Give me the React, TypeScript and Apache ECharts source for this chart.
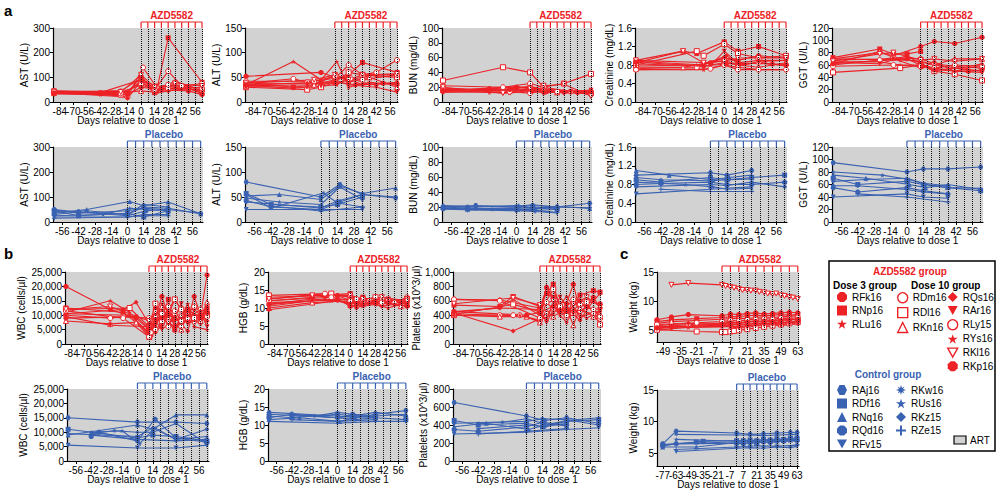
import React, { useEffect, useRef } from 'react';
import * as echarts from 'echarts';

type Pt = [number, number];
type SubjData = Record<string, Pt[]>;

const RED = '#ec2227';
const BLUE = '#3a62b2';
const GRAY = '#d2d2d2';
const FONT = 'Liberation Sans, Arial, sans-serif';

// ---------- tick labels / days ----------
const drugXTicks = [-84, -70, -56, -42, -28, -14, 0, 14, 28, 42, 56];
const placeboXTicks = [-56, -42, -28, -14, 0, 14, 28, 42, 56];
const weightDrugXTicks = [-49, -35, -21, -7, 7, 21, 35, 49, 63];
const weightPlaceboXTicks = [-77, -63, -49, -35, -21, -7, 7, 21, 35, 49, 63];
const treatmentDays = [0, 7, 14, 21, 28, 35, 42, 49, 56, 63];

const drugSubjects = ['RFk16', 'RNp16', 'RLu16', 'RDm16', 'RDl16', 'RKn16', 'RQs16', 'RAr16', 'RLy15', 'RYs16', 'RKl16', 'RKp16'];
const controlSubjects = ['RAj16', 'RDf16', 'RNq16', 'RQd16', 'RFv15', 'RKw16', 'RUs16', 'RKz15', 'RZe15'];

// ---------- data: [day, value] per animal ----------
const astDrug: SubjData = {
  RFk16: [[-90, 40], [-21, 45], [0, 95], [14, 55], [28, 65], [42, 60], [63, 70]],
  RNp16: [[-90, 45], [-14, 40], [0, 100], [16, 45], [28, 260], [63, 80]],
  RLu16: [[-90, 35], [-42, 30], [-21, 25], [2, 90], [14, 40], [35, 85], [49, 65], [63, 45]],
  RDm16: [[-90, 38], [-14, 20], [2, 140], [16, 60], [28, 125], [42, 65], [63, 75]],
  RDl16: [[-90, 42], [-21, 30], [0, 80], [14, 50], [28, 55], [63, 50]],
  RKn16: [[-90, 36], [-14, 40], [0, 45], [14, 40], [35, 70], [63, 40]],
  RQs16: [[-90, 33], [-28, 35], [-14, 15], [0, 85], [14, 35], [28, 45], [49, 55], [63, 35]],
  RAr16: [[-90, 40], [-42, 38], [0, 90], [16, 65], [35, 60], [63, 45]],
  RLy15: [[-90, 44], [-21, 35], [0, 70], [14, 50], [28, 70], [63, 55]],
  RYs16: [[-90, 37], [-14, 45], [2, 85], [14, 55], [42, 55], [63, 60]],
  RKl16: [[-90, 39], [-21, 40], [0, 110], [14, 60], [35, 75], [63, 65]],
  RKp16: [[-90, 35], [-14, 30], [0, 60], [21, 50], [49, 45], [63, 30]],
};
const altDrug: SubjData = {
  RFk16: [[-90, 52], [-14, 60], [0, 50], [14, 45], [28, 50], [42, 55], [63, 55]],
  RNp16: [[-90, 40], [-42, 30], [-21, 35], [0, 45], [14, 55], [28, 80], [63, 60]],
  RLu16: [[-90, 35], [-42, 82], [-14, 45], [2, 82], [14, 30], [35, 40], [63, 35]],
  RDm16: [[-90, 38], [-42, 47], [-28, 40], [0, 48], [14, 75], [28, 55], [42, 60], [63, 85]],
  RDl16: [[-90, 30], [-28, 25], [-14, 30], [0, 40], [14, 60], [28, 55], [63, 50]],
  RKn16: [[-90, 33], [-21, 35], [2, 55], [14, 40], [35, 50], [63, 30]],
  RQs16: [[-90, 36], [-28, 38], [0, 38], [16, 45], [28, 35], [63, 40]],
  RAr16: [[-90, 34], [-42, 28], [-14, 32], [0, 45], [14, 35], [42, 30], [63, 20]],
  RLy15: [[-90, 42], [-21, 42], [0, 52], [16, 48], [28, 45], [63, 55]],
  RYs16: [[-90, 31], [-28, 30], [2, 35], [14, 50], [35, 35], [63, 38]],
  RKl16: [[-90, 38], [-21, 45], [0, 55], [14, 45], [28, 55], [63, 57]],
  RKp16: [[-90, 35], [-14, 40], [0, 40], [21, 35], [49, 38], [63, 36]],
};
const bunDrug: SubjData = {
  RFk16: [[-90, 15], [-42, 18], [-14, 20], [0, 18], [14, 15], [35, 14], [63, 14]],
  RNp16: [[-90, 17], [-28, 15], [0, 22], [16, 14], [28, 13], [63, 12]],
  RLu16: [[-90, 14], [-42, 13], [-21, 12], [2, 16], [14, 12], [35, 15], [63, 15]],
  RDm16: [[-90, 22], [-28, 20], [0, 25], [14, 20], [42, 14], [63, 10]],
  RDl16: [[-90, 29], [-28, 47], [0, 40], [14, 20], [35, 25], [63, 38]],
  RKn16: [[-90, 16], [-21, 18], [0, 20], [14, 16], [28, 13], [63, 13]],
  RQs16: [[-90, 18], [-14, 16], [2, 14], [14, 18], [35, 12], [63, 15]],
  RAr16: [[-90, 13], [-42, 15], [0, 17], [16, 13], [42, 14], [63, 16]],
  RLy15: [[-90, 19], [-21, 14], [0, 12], [14, 15], [28, 14], [63, 11]],
  RYs16: [[-90, 15], [-14, 21], [0, 19], [21, 17], [42, 14], [63, 13]],
  RKl16: [[-90, 20], [-28, 12], [0, 18], [14, 22], [35, 24], [63, 8]],
  RKp16: [[-90, 16], [-21, 17], [2, 15], [14, 14], [49, 13], [63, 14]],
};
const creatDrug: SubjData = {
  RFk16: [[-90, 0.9], [-14, 0.85], [0, 0.95], [14, 0.9], [35, 1.0], [63, 0.95]],
  RNp16: [[-90, 0.85], [-42, 1.1], [-28, 1.05], [0, 1.3], [14, 1.1], [35, 1.2], [63, 1.0]],
  RLu16: [[-90, 0.7], [-21, 0.7], [0, 0.8], [14, 0.75], [35, 0.7], [63, 0.7]],
  RDm16: [[-90, 0.75], [-28, 0.75], [0, 0.85], [14, 0.8], [35, 0.85], [63, 0.8]],
  RDl16: [[-90, 0.8], [-28, 1.1], [-21, 1.0], [0, 1.25], [14, 1.05], [35, 0.95], [63, 1.0]],
  RKn16: [[-90, 0.72], [-42, 0.75], [0, 0.9], [14, 0.8], [35, 0.75], [63, 0.85]],
  RQs16: [[-90, 0.88], [-21, 0.8], [2, 1.0], [14, 0.85], [35, 0.9], [63, 0.9]],
  RAr16: [[-90, 0.82], [-14, 0.78], [0, 1.1], [16, 0.8], [35, 0.85], [63, 0.78]],
  RLy15: [[-90, 0.7], [-14, 0.72], [0, 0.8], [14, 0.7], [35, 0.7], [63, 0.7]],
  RYs16: [[-90, 0.78], [-28, 0.8], [0, 0.95], [21, 0.82], [42, 0.88], [63, 0.9]],
  RKl16: [[-90, 0.9], [-42, 1.1], [-21, 0.85], [0, 0.88], [14, 0.95], [35, 0.95], [63, 0.95]],
  RKp16: [[-90, 0.86], [-21, 0.78], [2, 0.82], [14, 0.85], [49, 0.82], [63, 0.8]],
};
const ggtDrug: SubjData = {
  RFk16: [[-90, 70], [-42, 80], [-28, 75], [0, 90], [14, 98], [35, 95], [63, 105]],
  RNp16: [[-90, 72], [-42, 86], [-28, 78], [-14, 78], [0, 82]],
  RLu16: [[-90, 65], [-42, 65], [-21, 60], [0, 60], [14, 55], [35, 50], [63, 48]],
  RDm16: [[-90, 60], [-42, 68], [-28, 72], [0, 70], [14, 62], [35, 58], [63, 55]],
  RDl16: [[-90, 48], [-21, 55], [0, 60], [14, 50], [35, 45], [63, 35]],
  RKn16: [[-90, 62], [-42, 82], [-28, 72], [0, 65], [14, 60], [35, 70], [63, 70]],
  RQs16: [[-90, 68], [-28, 70], [0, 55], [14, 65], [35, 50], [63, 60]],
  RAr16: [[-90, 64], [-42, 62], [-14, 75], [0, 62], [16, 52], [35, 55], [63, 50]],
  RLy15: [[-90, 58], [-28, 60], [0, 58], [14, 55], [35, 60], [63, 58]],
  RYs16: [[-90, 70], [-21, 68], [0, 66], [21, 58], [42, 55], [63, 62]],
  RKl16: [[-90, 66], [-42, 78], [-28, 80], [0, 68], [14, 70], [35, 66], [63, 70]],
  RKp16: [[-90, 62], [-14, 70], [2, 58], [14, 52], [49, 50], [63, 52]],
};

const astPlacebo: SubjData = {
  RAj16: [[-63, 50], [-42, 40], [0, 30], [14, 60], [35, 55], [63, 33]],
  RDf16: [[-63, 45], [-42, 25], [0, 35], [14, 20], [35, 45]],
  RNq16: [[-63, 35], [-35, 50], [2, 82], [14, 65], [35, 80], [63, 33]],
  RQd16: [[-63, 30], [-42, 40], [0, 25], [16, 45], [35, 50]],
  RFv15: [[-63, 20], [0, 20], [14, 30], [35, 30]],
  RKw16: [[-63, 40], [-35, 45], [0, 30], [14, 70], [35, 60]],
  RUs16: [[-63, 25], [-21, 30], [2, 55], [16, 50], [35, 45]],
  RKz15: [[-63, 48], [-42, 35], [0, 45], [14, 55], [35, 50], [63, 35]],
  RZe15: [[-63, 15], [0, 20], [14, 25], [35, 25]],
};
const altPlacebo: SubjData = {
  RAj16: [[-63, 80], [0, 50], [16, 75], [35, 55], [63, 48]],
  RDf16: [[-63, 57], [-42, 35], [0, 30], [14, 35], [35, 50]],
  RNq16: [[-63, 52], [-35, 55], [0, 45], [16, 72], [35, 57], [63, 68]],
  RQd16: [[-63, 43], [-42, 30], [0, 25], [16, 40], [35, 55]],
  RFv15: [[-63, 25], [0, 25], [35, 25]],
  RKw16: [[-63, 55], [-42, 28], [2, 58], [14, 38], [35, 30]],
  RUs16: [[-63, 48], [-35, 40], [0, 35], [16, 70], [35, 45]],
  RKz15: [[-63, 40], [0, 28], [14, 42], [35, 55], [63, 50]],
  RZe15: [[-42, 32], [0, 22], [35, 30]],
};
const bunPlacebo: SubjData = {
  RAj16: [[-63, 20], [-35, 22], [0, 20], [14, 22], [35, 20], [63, 25]],
  RDf16: [[-63, 19], [-42, 17], [0, 18], [14, 20], [35, 18]],
  RNq16: [[-63, 21], [-35, 20], [2, 22], [16, 18], [35, 21], [63, 18]],
  RQd16: [[-63, 18], [-42, 19], [0, 16], [14, 17], [35, 19]],
  RFv15: [[-63, 17], [0, 15], [16, 14], [35, 12]],
  RKw16: [[-63, 22], [-42, 21], [0, 21], [14, 23], [35, 20]],
  RUs16: [[-63, 18], [-21, 17], [2, 16], [16, 15], [35, 17]],
  RKz15: [[-63, 20], [-35, 18], [0, 19], [14, 18], [35, 20], [63, 19]],
  RZe15: [[-42, 16], [0, 17], [35, 13]],
};
const creatPlacebo: SubjData = {
  RAj16: [[-63, 1.0], [0, 1.05], [14, 1.0], [35, 1.1]],
  RDf16: [[-63, 0.9], [-42, 0.85], [0, 0.95], [14, 0.9], [35, 0.95], [63, 1.0]],
  RNq16: [[-63, 1.1], [-35, 1.0], [2, 0.9], [16, 0.95], [35, 1.0]],
  RQd16: [[-63, 0.8], [-42, 0.82], [0, 0.85], [14, 0.8], [35, 0.8], [63, 0.85]],
  RFv15: [[-63, 0.6], [0, 0.7], [14, 0.72], [35, 0.75]],
  RKw16: [[-63, 0.95], [-42, 0.9], [0, 0.88], [16, 0.9], [35, 0.92]],
  RUs16: [[-63, 0.85], [-21, 0.8], [2, 0.75], [14, 0.7], [35, 0.72]],
  RKz15: [[-63, 0.75], [0, 0.8], [14, 0.78], [35, 0.85], [63, 0.75]],
  RZe15: [[-42, 0.7], [0, 0.65], [35, 0.65]],
};
const ggtPlacebo: SubjData = {
  RAj16: [[-63, 95], [0, 80], [14, 85], [35, 85], [63, 88]],
  RDf16: [[-63, 70], [-42, 60], [0, 65], [14, 60], [35, 55], [63, 50]],
  RNq16: [[-63, 75], [-35, 70], [2, 60], [16, 55], [35, 60], [63, 52]],
  RQd16: [[-63, 55], [-42, 48], [0, 55], [14, 50], [35, 45]],
  RFv15: [[-63, 40], [0, 45], [14, 40], [35, 38]],
  RKw16: [[-63, 65], [-35, 68], [0, 70], [14, 62], [35, 58]],
  RUs16: [[-63, 80], [-21, 75], [2, 68], [16, 60], [35, 55], [63, 54]],
  RKz15: [[-63, 58], [-42, 58], [0, 52], [14, 48], [35, 45]],
  RZe15: [[-42, 45], [0, 40], [35, 32]],
};

const wbcDrug: SubjData = {
  RFk16: [[-90, 20000], [-42, 12000], [-14, 9000], [0, 5000], [2, 3000], [7, 9000], [14, 16500], [21, 10000], [28, 15500], [35, 12000], [42, 8000], [49, 16500], [56, 10000], [63, 24000]],
  RNp16: [[-90, 12500], [-28, 11000], [0, 4000], [7, 12000], [14, 9000], [21, 15500], [28, 5000], [35, 8000], [42, 12000], [56, 9000], [63, 12500]],
  RLu16: [[-90, 11000], [-42, 15000], [-21, 11000], [0, 3000], [2, 2000], [7, 6000], [14, 12000], [21, 8000], [28, 4500], [42, 14000], [49, 6000], [63, 5000]],
  RDm16: [[-90, 10000], [-42, 9000], [-28, 9500], [0, 9000], [7, 5000], [14, 7000], [21, 13000], [28, 10000], [35, 6000], [42, 9000], [56, 12000], [63, 11000]],
  RDl16: [[-90, 12000], [-21, 12500], [0, 6000], [7, 14000], [14, 8000], [28, 15500], [35, 12000], [49, 9000], [63, 10000]],
  RKn16: [[-90, 8000], [-42, 7000], [-14, 7500], [0, 2500], [7, 10000], [14, 13000], [21, 9000], [35, 5000], [42, 11000], [56, 8000], [63, 14500]],
  RQs16: [[-90, 10500], [-28, 12000], [-14, 14500], [0, 7000], [7, 4000], [14, 6500], [21, 11000], [28, 9500], [42, 4500], [49, 12000], [63, 8000]],
  RAr16: [[-90, 9500], [-42, 6500], [0, 6000], [7, 8000], [14, 5000], [28, 9000], [35, 14000], [42, 7000], [56, 11000], [63, 6000]],
  RLy15: [[-90, 11500], [-28, 9000], [0, 2500], [2, 4000], [14, 10500], [21, 6000], [28, 11500], [35, 8000], [49, 13000], [63, 9500]],
  RYs16: [[-90, 10500], [-21, 10000], [0, 4000], [7, 7000], [14, 14000], [28, 8000], [42, 10000], [56, 7000], [63, 12000]],
  RKl16: [[-90, 12000], [-42, 13000], [0, 8000], [7, 11000], [21, 7500], [35, 9500], [49, 7000], [63, 10500]],
  RKp16: [[-90, 9000], [-14, 9500], [0, 5500], [14, 9000], [28, 6000], [42, 11500], [56, 9500], [63, 11000]],
};
const hgbDrug: SubjData = {
  RFk16: [[-90, 12], [-42, 13], [-14, 13.5], [0, 12], [7, 11], [14, 12.5], [21, 11.5], [28, 12], [35, 11], [42, 12], [56, 11.5], [63, 12]],
  RNp16: [[-90, 13], [-28, 13.5], [0, 14], [7, 12], [14, 13], [28, 11.5], [42, 12.5], [63, 11]],
  RLu16: [[-90, 11], [-42, 12.5], [-21, 12], [0, 11.5], [14, 10.5], [28, 11], [42, 10], [63, 11.5]],
  RDm16: [[-90, 12.5], [-28, 14], [0, 13], [7, 12.5], [21, 12], [35, 12.5], [49, 11.5], [63, 13]],
  RDl16: [[-90, 13.5], [-21, 14], [0, 13], [14, 12], [28, 13], [42, 12], [63, 12.5]],
  RKn16: [[-90, 10], [-42, 11.5], [0, 12], [14, 11], [35, 12], [56, 10.5], [63, 11]],
  RQs16: [[-90, 9.5], [-14, 12], [0, 11], [7, 10], [21, 11.5], [35, 10.5], [49, 11], [63, 10.5]],
  RAr16: [[-90, 11.5], [-42, 12], [0, 12.5], [14, 11.5], [28, 12], [42, 11], [63, 12]],
  RLy15: [[-90, 12], [-21, 13], [0, 12], [14, 12.5], [35, 11.5], [63, 12.5]],
  RYs16: [[-90, 10.5], [-28, 12.5], [0, 11.5], [21, 12], [42, 12.5], [63, 11.5]],
  RKl16: [[-90, 12.5], [-42, 13.5], [0, 13.5], [14, 12.5], [35, 13], [63, 12]],
  RKp16: [[-90, 11], [-14, 12.5], [0, 10.5], [14, 11], [42, 11.5], [63, 10.5]],
};
const pltDrug: SubjData = {
  RFk16: [[-90, 620], [-42, 610], [0, 500], [7, 780], [14, 650], [21, 450], [28, 560], [35, 830], [42, 450], [49, 520], [56, 650], [63, 500]],
  RNp16: [[-90, 540], [-42, 520], [-28, 660], [0, 520], [7, 700], [14, 830], [21, 500], [28, 400], [42, 680], [56, 740], [63, 720]],
  RLu16: [[-90, 450], [-42, 500], [-28, 620], [0, 400], [7, 350], [14, 550], [21, 400], [28, 300], [35, 480], [49, 360], [63, 450]],
  RDm16: [[-90, 420], [-42, 400], [-28, 400], [-21, 400], [0, 320], [7, 580], [14, 480], [28, 380], [35, 620], [42, 460], [56, 420], [63, 350]],
  RDl16: [[-90, 410], [-28, 550], [0, 450], [14, 760], [21, 520], [35, 430], [49, 580], [63, 270]],
  RKn16: [[-90, 400], [-42, 380], [-14, 380], [0, 300], [7, 450], [14, 380], [28, 500], [35, 260], [42, 500], [56, 380], [63, 420]],
  RQs16: [[-90, 430], [-28, 180], [0, 350], [7, 800], [14, 600], [21, 480], [28, 500], [42, 330], [56, 600], [63, 700]],
  RAr16: [[-90, 440], [-42, 500], [0, 480], [7, 300], [21, 650], [35, 420], [49, 500], [63, 480]],
  RLy15: [[-90, 620], [-42, 600], [0, 360], [14, 500], [28, 400], [42, 550], [56, 480], [63, 380]],
  RYs16: [[-90, 400], [-21, 400], [0, 330], [14, 420], [28, 660], [42, 380], [63, 460]],
  RKl16: [[-90, 560], [-28, 640], [0, 540], [14, 600], [35, 550], [49, 650], [63, 520]],
  RKp16: [[-90, 450], [-14, 400], [0, 440], [14, 520], [28, 450], [42, 600], [63, 560]],
};

const wbcPlacebo: SubjData = {
  RAj16: [[-63, 15000], [0, 13500], [35, 13500], [63, 13000]],
  RDf16: [[-63, 11000], [0, 8000], [14, 9000], [35, 8500], [63, 7000]],
  RNq16: [[-63, 9000], [0, 12500], [14, 11000], [35, 16000], [63, 16000]],
  RQd16: [[-42, 8500], [-35, 10000], [0, 7000], [16, 14500], [35, 8000], [63, 6500]],
  RFv15: [[-63, 5500], [0, 4500], [35, 4500], [63, 5500]],
  RKw16: [[-42, 9500], [-21, 10500], [0, 10000], [14, 10000], [35, 13000], [63, 6000]],
  RUs16: [[-42, 10000], [-14, 10500], [2, 6000], [16, 11500], [35, 7500], [63, 8500]],
  RKz15: [[-63, 9500], [0, 8500], [14, 11500], [35, 7500], [63, 11000]],
  RZe15: [[-42, 9000], [0, 7500], [35, 7000], [63, 7500]],
};
const hgbPlacebo: SubjData = {
  RAj16: [[-63, 13.5], [0, 12.5], [16, 12], [35, 13], [63, 14]],
  RDf16: [[-63, 12.5], [-42, 12], [0, 13], [14, 12.5], [35, 12], [63, 11.5]],
  RNq16: [[-63, 11.5], [-35, 12], [2, 11], [16, 12], [35, 12.5], [63, 13]],
  RQd16: [[-63, 12], [-42, 13], [0, 12], [14, 13], [35, 12.5]],
  RFv15: [[-63, 11], [0, 10.5], [35, 11], [63, 11]],
  RKw16: [[-42, 12.5], [-21, 12.5], [0, 13.5], [14, 13], [35, 12]],
  RUs16: [[-42, 13], [0, 12], [16, 11.5], [35, 12]],
  RKz15: [[-63, 13], [0, 12], [14, 12.5], [35, 13.5], [63, 12.5]],
  RZe15: [[-42, 11.5], [0, 11], [35, 11.5]],
};
const pltPlacebo: SubjData = {
  RAj16: [[-63, 650], [0, 500], [16, 450], [35, 480], [63, 420]],
  RDf16: [[-63, 450], [-42, 400], [0, 420], [14, 380], [35, 440], [63, 460]],
  RNq16: [[-63, 380], [-35, 420], [2, 350], [16, 400], [35, 450], [63, 480]],
  RQd16: [[-63, 350], [-42, 330], [0, 380], [14, 430], [35, 400]],
  RFv15: [[-63, 300], [0, 320], [35, 350], [63, 370]],
  RKw16: [[-42, 420], [-21, 430], [0, 470], [14, 420], [35, 390]],
  RUs16: [[-42, 360], [0, 400], [16, 380], [35, 420]],
  RKz15: [[-63, 420], [0, 440], [14, 470], [35, 460], [63, 400]],
  RZe15: [[-42, 300], [0, 330], [35, 360]],
};

const weightDrug: SubjData = {
  RFk16: [[-54, 6.8], [-42, 7.3], [-28, 7.7], [0, 7.5], [7, 7.8], [14, 7.7], [21, 7.9], [28, 8.0], [35, 7.8], [42, 7.9], [49, 8.0], [56, 8.1], [63, 8.0]],
  RNp16: [[-54, 6.5], [-42, 6.8], [-21, 7.0], [0, 7.2], [7, 7.3], [14, 7.4], [21, 7.5], [28, 7.6], [35, 7.5], [42, 7.6], [49, 7.7], [56, 7.6], [63, 7.7]],
  RLu16: [[-54, 5.0], [-42, 5.3], [-28, 5.5], [0, 5.6], [7, 5.7], [14, 5.6], [21, 5.8], [28, 5.9], [35, 6.0], [42, 6.1], [49, 6.0], [56, 6.2], [63, 6.3]],
  RDm16: [[-54, 5.5], [-28, 6.0], [0, 6.2], [7, 6.4], [14, 6.3], [21, 6.5], [28, 6.6], [35, 6.5], [42, 6.8], [49, 6.7], [56, 6.9], [63, 6.8]],
  RDl16: [[-54, 5.1], [-21, 4.8], [0, 4.7], [3, 4.7], [7, 4.8], [10, 4.9], [14, 5.0], [21, 5.2], [28, 5.4], [35, 5.6], [42, 5.8], [49, 6.0], [56, 6.2], [63, 6.4]],
  RKn16: [[-54, 6.2], [-42, 6.5], [0, 6.9], [7, 7.0], [14, 7.1], [21, 7.0], [28, 7.2], [35, 7.3], [42, 7.2], [49, 7.3], [56, 7.4], [63, 7.5]],
  RQs16: [[-54, 5.8], [-28, 6.2], [0, 6.0], [7, 6.1], [14, 5.9], [21, 6.0], [28, 6.2], [35, 6.3], [42, 6.1], [49, 6.3], [56, 6.4], [63, 6.5]],
  RAr16: [[-54, 5.3], [-42, 5.5], [0, 5.7], [7, 5.6], [14, 5.4], [21, 5.5], [28, 5.8], [35, 5.9], [42, 6.0], [49, 5.8], [56, 6.0], [63, 6.1]],
  RLy15: [[-54, 6.0], [-21, 6.3], [0, 6.5], [7, 6.7], [14, 6.6], [21, 6.8], [28, 6.9], [35, 7.0], [42, 6.9], [49, 7.1], [56, 7.0], [63, 7.2]],
  RYs16: [[-54, 5.6], [-28, 5.7], [0, 5.9], [7, 5.8], [14, 6.1], [21, 6.0], [28, 6.2], [35, 6.1], [42, 6.4], [49, 6.3], [56, 6.5], [63, 6.4]],
  RKl16: [[-42, 12.8], [-28, 13.1], [0, 12.8], [3, 12.6], [7, 12.4], [10, 12.3], [14, 12.1], [17, 11.9], [21, 11.9], [24, 11.8], [28, 11.8], [31, 11.6], [35, 11.5], [38, 11.3], [42, 11.2], [45, 11.3], [49, 11.0], [52, 10.9], [56, 10.7], [59, 10.6], [63, 10.4]],
  RKp16: [[-54, 5.4], [-42, 5.6], [0, 6.1], [7, 6.3], [14, 6.2], [21, 6.4], [28, 6.5], [35, 6.6], [42, 6.5], [49, 6.7], [56, 6.8], [63, 6.9]],
};
const weightPlacebo: SubjData = {
  RAj16: [[-77, 6.5], [-63, 8.5], [0, 8.2], [14, 8.0], [28, 8.1], [42, 8.2], [56, 8.3], [63, 8.3]],
  RDf16: [[-77, 6.3], [-42, 6.8], [-35, 6.9], [0, 7.0], [7, 7.0], [14, 7.1], [21, 7.0], [28, 7.2], [35, 7.1], [42, 7.3], [49, 7.2], [56, 7.4], [63, 7.4]],
  RNq16: [[-77, 6.0], [-42, 6.0], [0, 6.7], [7, 6.8], [14, 6.9], [21, 6.8], [28, 7.0], [35, 7.1], [42, 7.0], [49, 7.2], [56, 7.1], [63, 7.3]],
  RQd16: [[-77, 6.2], [-63, 6.5], [0, 6.6], [7, 6.5], [14, 6.7], [21, 6.6], [28, 6.8], [35, 6.7], [49, 6.9], [63, 7.0]],
  RFv15: [[-63, 5.3], [0, 5.8], [14, 5.9], [28, 5.8], [42, 6.0], [56, 5.9], [63, 6.1]],
  RKw16: [[-63, 8.0], [0, 7.9], [14, 7.9], [28, 7.8], [42, 7.9], [63, 8.0]],
  RUs16: [[-63, 7.2], [0, 6.9], [14, 7.0], [28, 7.1], [42, 7.0], [63, 7.2]],
  RKz15: [[-77, 6.4], [-35, 6.8], [0, 6.6], [14, 6.6], [28, 6.8], [42, 6.9], [63, 7.0]],
  RZe15: [[-63, 5.6], [0, 6.0], [21, 6.2], [42, 6.1], [63, 6.3]],
};

// ---------- symbols ----------
const STAR = 'path://M5,0L6.2,3.6L10,3.6L6.9,5.8L8.1,9.5L5,7.2L1.9,9.5L3.1,5.8L0,3.6L3.8,3.6Z';
const INV_TRI = 'path://M0,0L10,0L5,9Z';
const OCT = 'path://M3,0L7,0L10,3L10,7L7,10L3,10L0,7L0,3Z';
const HEX = 'path://M2.5,0L7.5,0L10,5L7.5,10L2.5,10L0,5Z';
const PLUS = 'path://M4,0L6,0L6,4L10,4L10,6L6,6L6,10L4,10L4,6L0,6L0,4L4,4Z';
const ASTER = 'path://M5,0L6,3L8.5,1.5L7,4L10,5L7,6L8.5,8.5L6,7L5,10L4,7L1.5,8.5L3,6L0,5L3,4L1.5,1.5L4,3Z';

const symbolOf: Record<string, { s: string; hollow?: boolean }> = {
  RFk16: { s: OCT }, RNp16: { s: 'rect' }, RLu16: { s: STAR },
  RDm16: { s: 'circle', hollow: true }, RDl16: { s: 'rect', hollow: true }, RKn16: { s: 'triangle', hollow: true },
  RQs16: { s: 'diamond' }, RAr16: { s: INV_TRI }, RLy15: { s: 'circle', hollow: true },
  RYs16: { s: STAR }, RKl16: { s: INV_TRI, hollow: true }, RKp16: { s: OCT },
  RAj16: { s: HEX }, RDf16: { s: 'rect' }, RNq16: { s: 'triangle' }, RQd16: { s: OCT },
  RFv15: { s: INV_TRI }, RKw16: { s: ASTER }, RUs16: { s: STAR }, RKz15: { s: 'diamond' }, RZe15: { s: PLUS },
};

// ---------- panels ----------
type Panel = {
  data: SubjData; drug: boolean; rect: [number, number, number, number];
  xMin: number; xMax: number; xTicks: number[];
  yMax: number; yMin: number; yInt: number; yName: string; nameGap: number; fmt?: (v: number) => string;
};
const f1 = (v: number) => v.toFixed(1);
const fc = (v: number) => v.toLocaleString('en-US');
const aTop = 28, aH = 74, aBot = 147, aBH = 75;
const bTop = 272, bH = 72, bBot = 389, bBH = 72;
const ax = [[53, 150], [245, 153], [442, 150], [635, 152], [832, 151]];

const panels: Panel[] = [
  { data: astDrug, drug: true, rect: [ax[0][0], aTop, ax[0][1], aH], xMin: -91, xMax: 64, xTicks: drugXTicks, yMin: 0, yMax: 300, yInt: 100, yName: 'AST (U/L)', nameGap: 21 },
  { data: altDrug, drug: true, rect: [ax[1][0], aTop, ax[1][1], aH], xMin: -91, xMax: 64, xTicks: drugXTicks, yMin: 0, yMax: 150, yInt: 50, yName: 'ALT (U/L)', nameGap: 20 },
  { data: bunDrug, drug: true, rect: [ax[2][0], aTop, ax[2][1], aH], xMin: -91, xMax: 64, xTicks: drugXTicks, yMin: 0, yMax: 100, yInt: 20, yName: 'BUN (mg/dL)', nameGap: 20 },
  { data: creatDrug, drug: true, rect: [ax[3][0], aTop, ax[3][1], aH], xMin: -91, xMax: 64, xTicks: drugXTicks, yMin: 0, yMax: 1.6, yInt: 0.4, yName: 'Creatinine (mg/dL)', nameGap: 19, fmt: f1 },
  { data: ggtDrug, drug: true, rect: [ax[4][0], aTop, ax[4][1], aH], xMin: -91, xMax: 64, xTicks: drugXTicks, yMin: 0, yMax: 120, yInt: 20, yName: 'GGT (U/L)', nameGap: 22 },
  { data: astPlacebo, drug: false, rect: [ax[0][0], aBot, ax[0][1], aBH], xMin: -64, xMax: 65, xTicks: placeboXTicks, yMin: 0, yMax: 300, yInt: 100, yName: 'AST (U/L)', nameGap: 21 },
  { data: altPlacebo, drug: false, rect: [ax[1][0], aBot, ax[1][1], aBH], xMin: -64, xMax: 65, xTicks: placeboXTicks, yMin: 0, yMax: 150, yInt: 50, yName: 'ALT (U/L)', nameGap: 20 },
  { data: bunPlacebo, drug: false, rect: [ax[2][0], aBot, ax[2][1], aBH], xMin: -64, xMax: 65, xTicks: placeboXTicks, yMin: 0, yMax: 100, yInt: 20, yName: 'BUN (mg/dL)', nameGap: 20 },
  { data: creatPlacebo, drug: false, rect: [ax[3][0], aBot, ax[3][1], aBH], xMin: -64, xMax: 65, xTicks: placeboXTicks, yMin: 0, yMax: 1.6, yInt: 0.4, yName: 'Creatinine (mg/dL)', nameGap: 19, fmt: f1 },
  { data: ggtPlacebo, drug: false, rect: [ax[4][0], aBot, ax[4][1], aBH], xMin: -64, xMax: 65, xTicks: placeboXTicks, yMin: 0, yMax: 120, yInt: 20, yName: 'GGT (U/L)', nameGap: 22 },
  { data: wbcDrug, drug: true, rect: [65, bTop, 143, bH], xMin: -91, xMax: 64, xTicks: drugXTicks, yMin: 0, yMax: 25000, yInt: 5000, yName: 'WBC (cells/µl)', nameGap: 39, fmt: fc },
  { data: hgbDrug, drug: true, rect: [268, bTop, 140, bH], xMin: -91, xMax: 64, xTicks: drugXTicks, yMin: 0, yMax: 20, yInt: 5, yName: 'HGB (g/dL)', nameGap: 20 },
  { data: pltDrug, drug: true, rect: [453, bTop, 148, bH], xMin: -91, xMax: 64, xTicks: drugXTicks, yMin: 0, yMax: 1000, yInt: 200, yName: 'Platelets (x10^3/µl)', nameGap: 29, fmt: fc },
  { data: wbcPlacebo, drug: false, rect: [67, bBot, 142, bBH], xMin: -64, xMax: 65, xTicks: placeboXTicks, yMin: 0, yMax: 25000, yInt: 5000, yName: 'WBC (cells/µl)', nameGap: 39, fmt: fc },
  { data: hgbPlacebo, drug: false, rect: [268, bBot, 140, bBH], xMin: -64, xMax: 65, xTicks: placeboXTicks, yMin: 0, yMax: 20, yInt: 5, yName: 'HGB (g/dL)', nameGap: 20 },
  { data: pltPlacebo, drug: false, rect: [453, bBot, 148, bBH], xMin: -64, xMax: 65, xTicks: placeboXTicks, yMin: 0, yMax: 800, yInt: 200, yName: 'Platelets (x10^3/µl)', nameGap: 25, fmt: fc },
  { data: weightDrug, drug: true, rect: [657, 272, 142, 70], xMin: -54, xMax: 64, xTicks: weightDrugXTicks, yMin: 3, yMax: 15, yInt: 5, yName: 'Weight (kg)', nameGap: 18 },
  { data: weightPlacebo, drug: false, rect: [657, 390, 142, 76], xMin: -83, xMax: 65, xTicks: weightPlaceboXTicks, yMin: 3, yMax: 15, yInt: 5, yName: 'Weight (kg)', nameGap: 18 },
];

const weightYTicks = [5, 10, 15];

function buildOption() {
  const grid: any[] = [], xAxis: any[] = [], yAxis: any[] = [], series: any[] = [];
  panels.forEach((p, i) => {
    const c = p.drug ? RED : BLUE;
    const [l, t, w, h] = p.rect;
    grid.push({ left: l, top: t, width: w, height: h, show: true, backgroundColor: GRAY, borderWidth: 0 });
    const axLine = { show: true, onZero: false, lineStyle: { color: '#000', width: 1.2 } };
    xAxis.push({
      gridIndex: i, type: 'value', min: p.xMin, max: p.xMax,
      axisLine: axLine,
      axisTick: { show: true, customValues: p.xTicks, length: 3, lineStyle: { color: '#000', width: 1 } },
      axisLabel: { show: false },
      splitLine: { show: false },
      name: 'Days relative to dose 1', nameLocation: 'middle', nameGap: 13,
      nameTextStyle: { fontSize: 10, color: '#000', fontFamily: FONT, verticalAlign: 'top' },
    });
    const isWeight = p.yMin === 3;
    yAxis.push({
      gridIndex: i, type: 'value', min: p.yMin, max: p.yMax,
      ...(isWeight ? {} : { interval: p.yInt }),
      axisLine: axLine,
      axisTick: { show: true, length: 3, lineStyle: { color: '#000', width: 1 }, ...(isWeight ? { customValues: weightYTicks } : {}) },
      axisLabel: { fontSize: 10, color: '#000', margin: 3, fontFamily: FONT, showMinLabel: true, showMaxLabel: true, formatter: p.fmt ? (v: number) => p.fmt!(v) : undefined, ...(isWeight ? { customValues: weightYTicks } : {}) },
      splitLine: { show: false },
      name: p.yName, nameLocation: 'middle', nameGap: p.nameGap,
      nameTextStyle: { fontSize: 10, color: '#000', fontFamily: FONT },
    });
    series.push({
      type: 'line', xAxisIndex: i, yAxisIndex: i, data: [], silent: true, z: 1,
      markLine: {
        silent: true, symbol: ['none', 'none'], label: { show: false },
        lineStyle: { type: 'dotted', color: '#111', width: 1 },
        data: treatmentDays.map((d) => ({ xAxis: d })),
      },
    });
    const order = p.drug ? drugSubjects : controlSubjects;
    order.filter((s) => p.data[s]).forEach((s) => {
      const sym = symbolOf[s];
      series.push({
        type: 'line', name: s, xAxisIndex: i, yAxisIndex: i, data: p.data[s],
        symbol: sym.s, symbolSize: 5, showSymbol: true, silent: true, z: 3,
        lineStyle: { color: c, width: 1.1 },
        itemStyle: sym.hollow ? { color: '#fff', borderColor: c, borderWidth: 1 } : { color: c, borderWidth: 0 },
      });
    });
  });

  const legendDefs = [
    { names: ['RFk16', 'RNp16', 'RLu16'], left: 837, top: 292, c: RED },
    { names: ['RDm16', 'RDl16', 'RKn16'], left: 897, top: 292, c: RED },
    { names: ['RQs16', 'RAr16', 'RLy15', 'RYs16', 'RKl16', 'RKp16'], left: 947, top: 292, c: RED },
    { names: ['RAj16', 'RDf16', 'RNq16', 'RQd16', 'RFv15'], left: 837, top: 385, c: BLUE },
    { names: ['RKw16', 'RUs16', 'RKz15', 'RZe15'], left: 896, top: 385, c: BLUE },
  ];
  const legend = legendDefs.map((L) => ({
    orient: 'vertical', left: L.left, top: L.top, itemWidth: 10, itemHeight: 10, itemGap: 3.5, padding: 0,
    selectedMode: false, textStyle: { fontSize: 10, color: '#000', fontFamily: FONT },
    data: L.names.map((n) => {
      const sym = symbolOf[n];
      return {
        name: n, icon: sym.s,
        itemStyle: sym.hollow ? { color: '#fff', borderColor: L.c, borderWidth: 1.4 } : { color: L.c, borderWidth: 0 },
      };
    }),
  }));

  return {
    animation: false,
    textStyle: { fontFamily: FONT },
    grid, xAxis, yAxis, series, legend,
  };
}

function staticGraphics(): any[] {
  const t = (x: number, y: number, text: string, opts: any = {}) => ({
    type: 'text', x, y, silent: true,
    style: { text, fontFamily: FONT, fontSize: 10, fill: '#000', ...opts },
  });
  return [
    t(4, 3, 'a', { fontSize: 15, fontWeight: 'bold' }),
    t(4, 246, 'b', { fontSize: 15, fontWeight: 'bold' }),
    t(620, 246, 'c', { fontSize: 15, fontWeight: 'bold' }),
    { type: 'rect', silent: true, shape: { x: 829, y: 261, width: 166, height: 190 }, style: { fill: 'none', stroke: '#000', lineWidth: 1.5 } },
    t(910, 271, 'AZD5582 group', { fontWeight: 'bold', fill: RED, align: 'center', verticalAlign: 'middle' }),
    t(833, 285, 'Dose 3 group', { fontWeight: 'bold', verticalAlign: 'middle' }),
    t(911, 285, 'Dose 10 group', { fontWeight: 'bold', verticalAlign: 'middle' }),
    t(888, 374, 'Control group', { fontWeight: 'bold', fill: BLUE, align: 'center', verticalAlign: 'middle' }),
    { type: 'rect', silent: true, shape: { x: 954, y: 436, width: 12, height: 8 }, style: { fill: GRAY, stroke: '#000', lineWidth: 1.2 } },
    t(970, 440, 'ART', { verticalAlign: 'middle' }),
  ];
}

export default function App() {
  const ref = useRef<HTMLDivElement>(null);
  useEffect(() => {
    if (!ref.current) return;
    const chart = echarts.init(ref.current, undefined, { renderer: 'svg' });
    chart.setOption(buildOption() as any);
    const extra: any[] = [];
    panels.forEach((p, i) => {
      const c = p.drug ? RED : BLUE;
      const top = p.rect[1];
      const bottom = p.rect[1] + p.rect[3];
      const px = (d: number) => chart.convertToPixel({ xAxisIndex: i } as any, d) as unknown as number;
      // x tick labels
      p.xTicks.forEach((d) => extra.push({
        type: 'text', silent: true, x: px(d), y: bottom + 4,
        style: { text: String(d), fontFamily: FONT, fontSize: 10, fill: '#000', align: 'center', verticalAlign: 'top' },
      }));
      // treatment bracket
      const by = top - 6;
      const xs = treatmentDays.map(px);
      const x0 = xs[0], x1 = xs[xs.length - 1];
      extra.push({ type: 'line', silent: true, shape: { x1: x0, y1: by, x2: x1, y2: by }, style: { stroke: c, lineWidth: 1.2 } });
      xs.forEach((x) => extra.push({ type: 'line', silent: true, shape: { x1: x, y1: by, x2: x, y2: top }, style: { stroke: c, lineWidth: 1.2 } }));
      extra.push({
        type: 'text', silent: true, x: (x0 + x1) / 2, y: by - 1.5,
        style: { text: p.drug ? 'AZD5582' : 'Placebo', fontFamily: FONT, fontSize: 10, fontWeight: 'bold', fill: c, align: 'center', verticalAlign: 'bottom' },
      });
    });
    chart.setOption({ graphic: [...staticGraphics(), ...extra] } as any);
    return () => chart.dispose();
  }, []);
  return <div ref={ref} style={{ position: 'fixed', left: 0, top: 0, width: 1000, height: 491, background: '#fff' }} />;
}
